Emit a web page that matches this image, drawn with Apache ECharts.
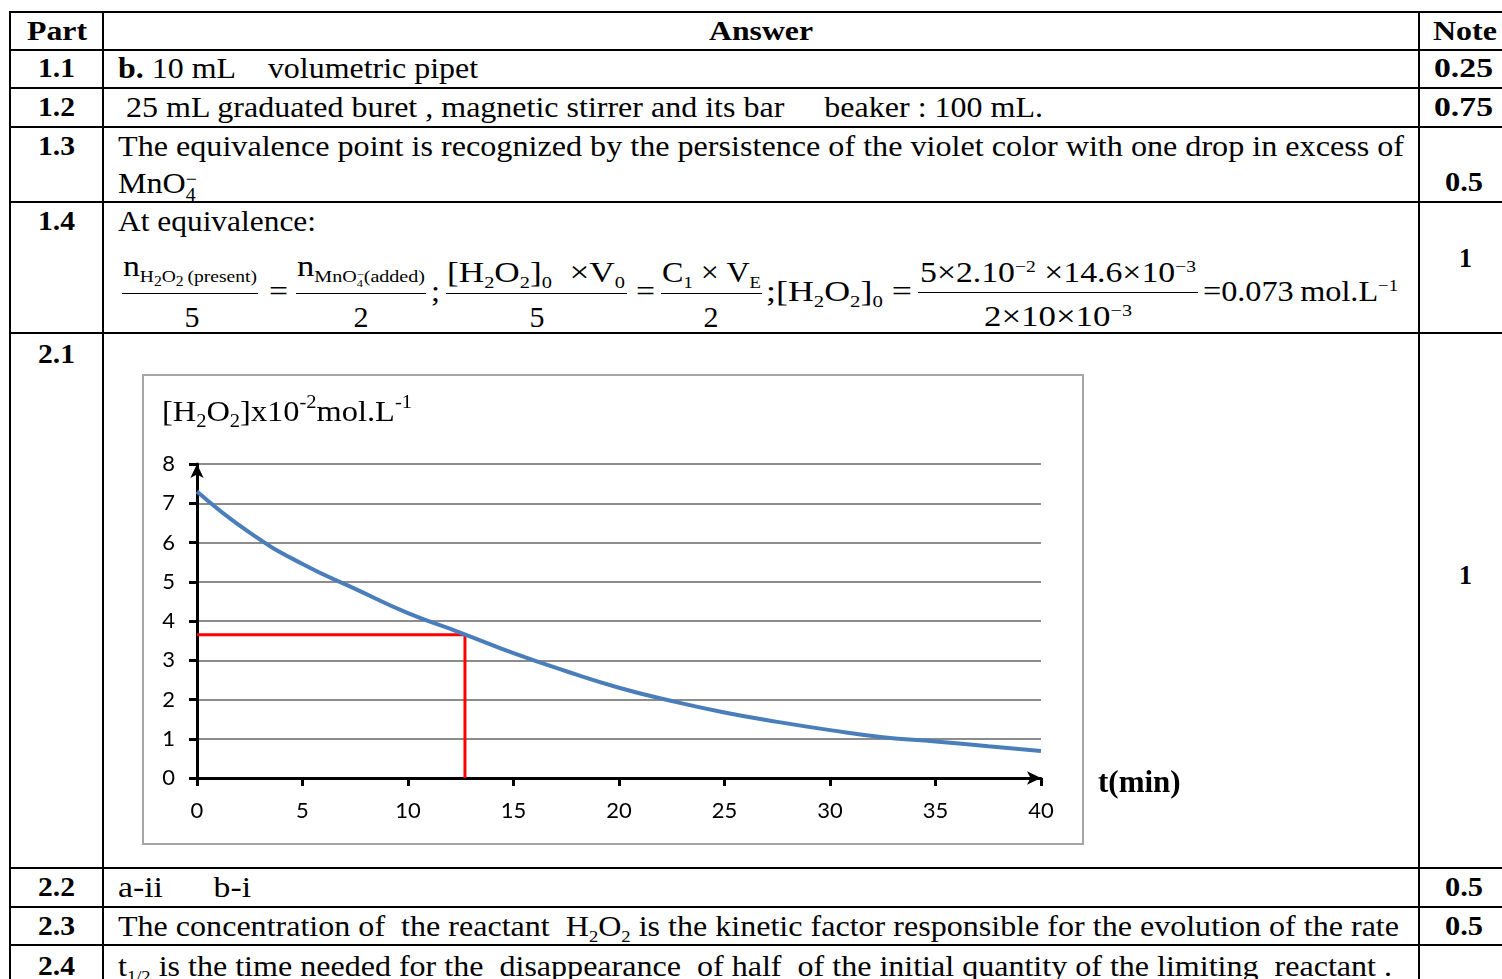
<!DOCTYPE html>
<html>
<head>
<meta charset="utf-8">
<script src="https://cdn.jsdelivr.net/npm/echarts@6/dist/echarts.min.js"></script>
<style>
html,body{margin:0;padding:0;background:#fff;overflow:hidden;width:1502px;height:979px}
#page{position:relative;width:1502px;height:979px;overflow:hidden;font-family:"Liberation Serif","Times New Roman",serif;color:#000}
.h{position:absolute;left:9px;width:1510px;height:2px;background:#000}
.v{position:absolute;top:11px;width:2px;height:970px;background:#000}
.t{position:absolute;white-space:nowrap;line-height:1;transform-origin:0 0}
.b{font-weight:bold}
.lo{font-size:58%;vertical-align:-0.35em;line-height:0}
.lo2{font-size:80%;vertical-align:-0.3em;line-height:0}
.hi{font-size:58%;vertical-align:0.6em;line-height:0}
.stk{display:inline-block;vertical-align:-0.45em;font-size:62%;line-height:0.85}
.stk span{display:block}
.bar{position:absolute;height:1px;background:#000}
#chart{position:absolute;left:142px;top:374px;width:1070px;height:480px}
</style>
</head>
<body>
<div id="page">
  <div id="chart"></div>
</div>
<script>
// curve
var tMin = [0, 2.5, 5, 7.5, 10, 12.5, 15, 17.5, 20, 22.5, 25, 27.5, 30, 32.5, 35, 37.5, 40];
var h2o2 = [7.3, 6.25, 5.45, 4.82, 4.2, 3.7, 3.18, 2.72, 2.3, 1.96, 1.67, 1.43, 1.22, 1.04, 0.93, 0.81, 0.69];
var halfLife = 12.7;
var halfConc = 3.65;
var yTicks = [0, 8, 1];
var xTicks = [0, 40, 5];

var page = document.getElementById('page');

// table grid
var rowLines = [11, 49, 87, 126, 201, 332, 867, 906, 944];
var colLines = [9, 102, 1418];
rowLines.forEach(function(y){
    var d = document.createElement('div'); d.className = 'h'; d.style.top = y + 'px'; page.appendChild(d);
});
colLines.forEach(function(x){
    var d = document.createElement('div'); d.className = 'v'; d.style.left = x + 'px'; page.appendChild(d);
});

var items = [];
function put(html, x, base, size, w, cls, centre) {
    var d = document.createElement('div');
    d.className = 't ' + (cls || '');
    d.innerHTML = html;
    d.style.fontSize = size + 'px';
    d.style.top = (base - 0.84 * size) + 'px';
    d.style.left = x + 'px';
    page.appendChild(d);
    items.push({el: d, x: x, w: w, c: centre});
}
function bar(x1, x2, y) {
    var d = document.createElement('div'); d.className = 'bar';
    d.style.left = x1 + 'px'; d.style.width = (x2 - x1) + 'px'; d.style.top = y + 'px';
    page.appendChild(d);
}
function fit() {
    items.forEach(function(it){
        it.el.style.transform = 'none';
        var nat = it.el.getBoundingClientRect().width;
        if (it.w && nat > 0) it.el.style.transform = 'scaleX(' + (it.w / nat) + ')';
        if (it.c) it.el.style.left = (it.x - it.w / 2) + 'px';
    });
}

// header
put('Part', 57, 41, 27, 60, 'b', true);
put('Answer', 761, 41, 27, 104, 'b', true);
put('Note', 1465, 41, 27, 64, 'b', true);

// part labels
var parts = [['1.1', 78], ['1.2', 117], ['1.3', 156], ['1.4', 231], ['2.1', 364], ['2.2', 897], ['2.3', 936], ['2.4', 976]];
parts.forEach(function(p){ put(p[0], 56, p[1], 27, 37, 'b', true); });

// notes
put('0.25', 1463, 78, 27, 59, 'b', true);
put('0.75', 1463, 117, 27, 59, 'b', true);
put('0.5', 1464, 192, 27, 38, 'b', true);
put('1', 1465, 268, 27, 13, 'b', true);
put('1', 1465, 585, 27, 13, 'b', true);
put('0.5', 1464, 897, 27, 38, 'b', true);
put('0.5', 1464, 936, 27, 38, 'b', true);

// answers
put('<b>b.</b> 10 mL&nbsp;&nbsp;&nbsp;&nbsp;volumetric pipet', 118, 78, 29, 360);
put('25 mL graduated buret , magnetic stirrer and its bar &nbsp;&nbsp;&nbsp; beaker : 100 mL.', 126, 117, 29, 917);
put('The equivalence point is recognized by the persistence of the violet color with one drop in excess of', 118, 156, 29, 1286);
put('MnO<span class="stk"><span>&minus;</span><span>4</span></span>', 118, 193, 29, 79);
put('At equivalence:', 118, 231, 29, 198);

// equation row 1.4
put('n<span class="lo">H<span class="lo2">2</span>O<span class="lo2">2</span>&thinsp;(present)</span>', 123, 276, 30, 134);
bar(122, 258, 293);
put('5', 192, 327, 30, 15, '', true);
put('=', 269, 301, 30, 19);
put('n<span class="lo">MnO<span class="stk"><span>&minus;</span><span>4</span></span>(added)</span>', 297, 276, 30, 128);
bar(296, 426, 293);
put('2', 361, 327, 30, 15, '', true);
put(';', 431, 301, 30, 9);
put('[H<span class="lo">2</span>O<span class="lo">2</span>]<span class="lo">0</span>&nbsp;&nbsp;&times;V<span class="lo">0</span>', 447, 282, 30, 178);
bar(446, 627, 293);
put('5', 537, 327, 30, 15, '', true);
put('=', 636, 301, 30, 19);
put('C<span class="lo">1</span> &times; V<span class="lo">E</span>', 662, 282, 30, 99);
bar(661, 762, 293);
put('2', 711, 327, 30, 15, '', true);
put(';[H<span class="lo">2</span>O<span class="lo">2</span>]<span class="lo">0</span> =', 766, 301, 30, 146);
put('5&times;2.10<span class="hi">&minus;2</span> &times;14.6&times;10<span class="hi">&minus;3</span>', 920, 282, 30, 276);
bar(918, 1198, 292);
put('2&times;10&times;10<span class="hi">&minus;3</span>', 984, 326, 30, 148);
put('=0.073&thinsp;mol.L<span class="hi">&minus;1</span>', 1203, 301, 30, 195);

// rows 2.2 - 2.4
put('a-ii&nbsp;&nbsp;&nbsp;&nbsp;&nbsp;&nbsp;b-i', 118, 897, 29, 133);
put('The concentration of&nbsp; the reactant&nbsp; H<span class="lo">2</span>O<span class="lo">2</span> is the kinetic factor responsible for the evolution of the rate', 118, 936, 29, 1281);
put('t<span class="lo">1/2</span> is the time needed for the&nbsp; disappearance&nbsp; of half&nbsp; of the initial quantity of the limiting&nbsp; reactant .', 118, 976, 29, 1274);

fit();
if (document.fonts && document.fonts.ready) document.fonts.ready.then(fit);

// chart
var chart = echarts.init(document.getElementById('chart'));
var curve = [];
for (var i = 0; i < tMin.length; i++) curve.push([tMin[i], h2o2[i]]);

var labelStyle = {color: '#000', fontFamily: 'Lato', fontSize: 22};
var option = {
    animation: false,
    graphic: [
        {
            type: 'rect', silent: true, z: -10,
            shape: {x: 1, y: 1, width: 940, height: 469},
            style: {fill: '#fff', stroke: '#a6a6a6', lineWidth: 2}
        },
        {
            type: 'text', x: 20, y: 20, scaleX: 1.08, z: 10,
            style: {
                text: '{a|[H}{s|2}{a|O}{s|2}{a|]x10}{p|-2}{a|mol.L}{p|-1}',
                rich: {
                    a: {fontFamily: 'Liberation Serif', fontSize: 30, lineHeight: 38, verticalAlign: 'middle', fill: '#000'},
                    s: {fontFamily: 'Liberation Serif', fontSize: 19, lineHeight: 19, verticalAlign: 'bottom', fill: '#000'},
                    p: {fontFamily: 'Liberation Serif', fontSize: 19, lineHeight: 19, verticalAlign: 'top', fill: '#000'}
                }
            }
        }
    ],
    grid: {left: 55, top: 90, width: 844, height: 314},
    xAxis: {
        type: 'value', min: xTicks[0], max: xTicks[1], interval: xTicks[2],
        name: 't(min)', nameLocation: 'end', nameGap: 57,
        nameTextStyle: {fontFamily: 'Liberation Serif', fontWeight: 'bold', fontSize: 31, color: '#000', verticalAlign: 'top', lineHeight: 12},
        axisLine: {lineStyle: {color: '#000', width: 3}, symbol: ['none', 'arrow'], symbolSize: [10, 14]},
        axisTick: {show: true, length: 8, lineStyle: {color: '#000', width: 3}},
        axisLabel: Object.assign({margin: 22}, labelStyle),
        splitLine: {show: false}
    },
    yAxis: {
        type: 'value', min: yTicks[0], max: yTicks[1], interval: yTicks[2],
        axisLine: {show: true, lineStyle: {color: '#000', width: 3}, symbol: ['none', 'arrow'], symbolSize: [10, 14]},
        axisTick: {show: true, length: 8, lineStyle: {color: '#000', width: 3}},
        axisLabel: Object.assign({margin: 22}, labelStyle),
        splitLine: {show: true, lineStyle: {color: '#8c8c8c', width: 2}}
    },
    series: [
        {
            name: 'H2O2', type: 'line', data: curve, smooth: 0.5, showSymbol: false,
            lineStyle: {color: '#4a7ebb', width: 4}, z: 3
        },
        {
            name: 't1/2', type: 'line', showSymbol: false,
            data: [[0, halfConc], [halfLife, halfConc], [halfLife, 0]],
            lineStyle: {color: '#ff0000', width: 3}, z: 2
        }
    ]
};
chart.setOption(option);
</script>
</body>
</html>
